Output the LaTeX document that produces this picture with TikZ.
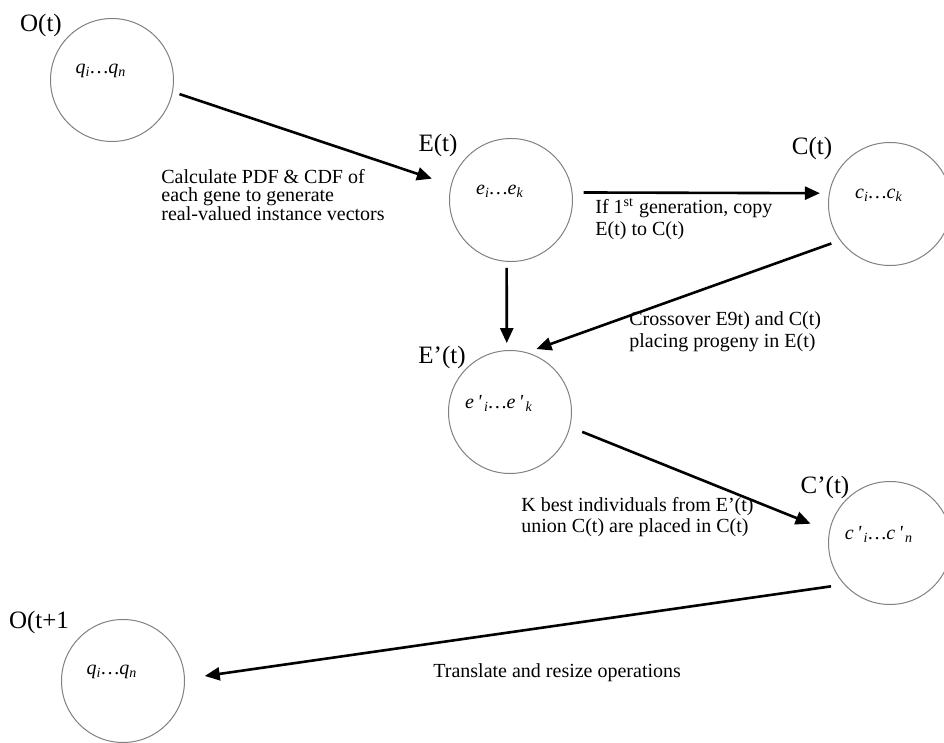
\documentclass[tikz,border=0pt]{standalone}
\usepackage{fontspec}
\setmainfont{Liberation Serif}
\usetikzlibrary{arrows.meta}
\begin{document}
\begin{tikzpicture}[x=0.5pt,y=-0.5pt,font=\fontsize{10}{12}\selectfont]
\tikzstyle{pool}=[circle,draw=black!50,line width=0.5pt,minimum size=61.5pt,inner sep=0pt]
\tikzstyle{inside}=[font=\fontsize{10}{12}\selectfont\itshape,inner sep=0pt,xshift=-5.5pt,yshift=4.5pt]
\tikzstyle{tag}=[font=\fontsize{12.5}{15}\selectfont,inner sep=0pt]
\tikzstyle{flow}=[line width=1.3pt,-{Triangle[length=7.5pt,width=6.5pt]}]
\tikzstyle{note}=[anchor=west,align=left,inner sep=0pt]
\useasboundingbox (0,0) rectangle (944,743);
% populations
\node[pool,label={[inside]center:q\textsubscript{i}…q\textsubscript{n}}] (o) at (112,80) {};
\node[pool,label={[inside]center:e\textsubscript{i}…e\textsubscript{k}}] (e) at (511,200) {};
\node[pool,label={[inside]center:c\textsubscript{i}…c\textsubscript{k}}] (c) at (890,204) {};
\node[pool,label={[inside]center:e\,\textquotesingle\textsubscript{\,i}…e\,\textquotesingle\textsubscript{\,k}}] (e') at (510,412) {};
\node[pool,label={[inside]center:c\,\textquotesingle\textsubscript{\,i}…c\,\textquotesingle\textsubscript{\,n}}] (c') at (890,543) {};
\node[pool,label={[inside]center:q\textsubscript{i}…q\textsubscript{n}}] (o') at (123,681) {};
% names
\node[tag] (ot) at (41,25) {O(t)};
\node[tag] (et) at (438,145) {E(t)};
\node[tag] (ct) at (812,148) {C(t)};
\node[tag] (e't) at (442,357) {E’(t)};
\node[tag] (c't) at (825,487) {C’(t)};
\node[tag] (o't) at (39,622) {O(t+1};
% steps
\draw[flow,shorten <=3.5pt,shorten >=10pt] (o.-11) -- (e.166);
\draw[flow,shorten <=5.5pt,shorten >=4.5pt] (e.7) -- (c.170);
\draw[flow,shorten <=3pt,shorten >=3.5pt] (e.-94) -- (e'.93);
\draw[flow,shorten <=4.5pt,shorten >=5pt] (c.216) -- (e'.74);
\draw[flow,shorten <=6.5pt,shorten >=10pt] (e'.-14) -- (c'.169);
\draw[flow,shorten <=6.5pt,shorten >=10pt] (c'.222) -- (o'.2);
\node[note,font=\fontsize{10}{9.3}\selectfont] (pdf) at (161,195) {Calculate PDF \& CDF of\\each gene to generate\\real-valued instance vectors};
\node[note,font=\fontsize{10}{10.8}\selectfont] (copy) at (595,219) {If 1\textsuperscript{st} generation, copy\\E(t) to C(t)};
\node[note,font=\fontsize{10}{10.8}\selectfont] (cross) at (629,332) {Crossover E9t) and C(t)\\placing progeny in E(t)};
\node[note,font=\fontsize{10}{10.8}\selectfont] (best) at (521,517) {K best individuals from E’(t)\\union C(t) are placed in C(t)};
\node[note] (resize) at (433,673) {Translate and resize operations};
\end{tikzpicture}
\end{document}
